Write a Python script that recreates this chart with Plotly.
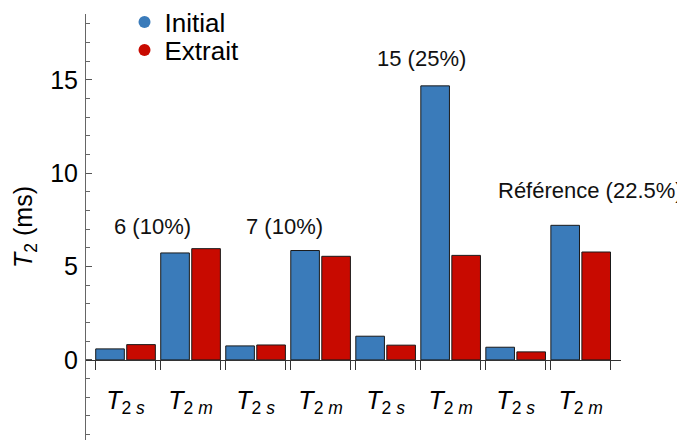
import plotly.graph_objects as go

categories = ["T2s", "T2m", "T2s", "T2m", "T2s", "T2m", "T2s", "T2m"]
tick_text = ["<i>T</i><sub>2 <i>s</i></sub>", "<i>T</i><sub>2 <i>m</i></sub>"] * 4
initial = [0.59, 5.73, 0.75, 5.86, 1.27, 14.68, 0.68, 7.21]
extrait = [0.82, 5.96, 0.80, 5.55, 0.79, 5.60, 0.43, 5.78]
group_labels = ["6 (10%)", "7 (10%)", "15 (25%)", "Référence (22.5%)"]

blue = "#3a7bba"
red = "#c80a00"
font = "Liberation Sans, Arial, sans-serif"

bargap = 0.046
bargroupgap = 0.077
x = list(range(len(categories)))

fig = go.Figure()
fig.add_trace(go.Bar(x=x, y=initial, name="Initial", marker_color=blue,
                     marker_line=dict(color="#1a1a1a", width=1), showlegend=False))
fig.add_trace(go.Bar(x=x, y=extrait, name="Extrait", marker_color=red,
                     marker_line=dict(color="#1a1a1a", width=1), showlegend=False))
# legend entries drawn as dots, one legend each so the spacing can be set
fig.add_trace(go.Scatter(x=[None], y=[None], mode="markers", name="Initial",
                         marker=dict(color=blue, size=15), legend="legend"))
fig.add_trace(go.Scatter(x=[None], y=[None], mode="markers", name="Extrait",
                         marker=dict(color=red, size=15), legend="legend2"))

# group label annotations
label_pos = [(0.42, 7.17), (2.45, 7.17), (4.55, 16.12), (7.15, 9.1)]
for txt, (lx, ly) in zip(group_labels, label_pos):
    fig.add_annotation(x=lx, y=ly, text=txt, showarrow=False,
                       font=dict(size=22, color="#111", family=font))

# tick marks at edges of each category's bars
half = (1 - bargap) / 2 * (1 - bargroupgap / 2)
edges = []
for i in x:
    edges += [i - half, i + half]

legend_style = dict(xanchor="left", yanchor="middle", font=dict(size=26),
                    bgcolor="rgba(0,0,0,0)", itemsizing="constant")

yr = [-4.29, 18.53]
fig.update_layout(
    width=685, height=441,
    margin=dict(l=78, r=72, t=6, b=9, autoexpand=False),
    plot_bgcolor="white", paper_bgcolor="white",
    barmode="group", bargap=bargap, bargroupgap=bargroupgap,
    font=dict(family=font, size=24, color="black"),
    legend=dict(x=0.072, y=0.981, **legend_style),
    legend2=dict(x=0.072, y=0.9155, **legend_style),
    xaxis=dict(range=[-0.608, 7.62], tickmode="array", tickvals=x, ticktext=tick_text,
               ticks="", showgrid=False, zeroline=False, showline=True,
               linecolor="#333", linewidth=1, anchor="free", automargin=False,
               position=(0 - yr[0]) / (yr[1] - yr[0]),
               ticklabelstandoff=18, tickfont=dict(size=25),
               minor=dict(tickmode="array", tickvals=edges, ticks="outside",
                          ticklen=9, tickcolor="#333", tickwidth=1)),
    yaxis=dict(range=yr, tickvals=[0, 5, 10, 15], ticks="inside", ticklen=6,
               tickcolor="#555", showgrid=False, zeroline=False, showline=True,
               linecolor="#666", linewidth=1, ticklabelstandoff=2, automargin=False,
               tickfont=dict(size=25),
               minor=dict(dtick=1, ticks="inside", ticklen=4, tickcolor="#666"),
               title=dict(text="<i>T</i><sub>2</sub> (ms)", font=dict(size=25), standoff=10)),
)

fig.write_html("out.html")
